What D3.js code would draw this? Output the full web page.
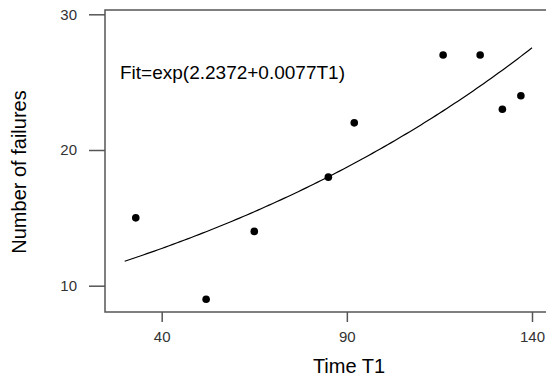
<!DOCTYPE html>
<html>
<head>
<meta charset="utf-8">
<script src="https://cdn.jsdelivr.net/npm/d3@7"></script>
<style>
  body { margin: 0; background: #fff; }
  svg { display: block; font-family: "Liberation Sans", Arial, sans-serif; }
</style>
</head>
<body>
<div id="chart"></div>
<script>
// Data
const timeT1 = [33, 52, 65, 85, 92, 116, 126, 132, 137];
const failures = [15, 9, 14, 18, 22, 27, 27, 23, 24];
const xTicks = [40, 90, 140];
const yTicks = [10, 20, 30];
const fitA = 2.2372;
const fitB = 0.0077;
const fitRange = [30, 140];

const width = 546;
const height = 380;

const svg = d3.select("#chart")
  .append("svg")
    .attr("width", width)
    .attr("height", height);

// Scales
const x = d3.scaleLinear().domain([40, 140]).range([161.7, 532]);
const y = d3.scaleLinear().domain([10, 30]).range([285.7, 14.3]);

const frame = { left: 105, top: 10, bottom: 312, right: 560 };
const axisColor = "#555";

// Frame (right side runs off the page)
svg.append("rect")
  .attr("x", frame.left)
  .attr("y", frame.top)
  .attr("width", frame.right - frame.left)
  .attr("height", frame.bottom - frame.top)
  .attr("fill", "none")
  .attr("stroke", axisColor)
  .attr("stroke-width", 1.5);

// Y axis
const yAxis = svg.append("g")
  .attr("transform", `translate(${frame.left},0)`)
  .call(d3.axisLeft(y).tickValues(yTicks).tickSize(16).tickPadding(12));
yAxis.select(".domain").remove();
yAxis.selectAll(".tick line").attr("stroke", axisColor).attr("stroke-width", 1.5);
yAxis.selectAll(".tick text")
  .attr("fill", "#333")
  .style("font-size", "15px");

// X axis
const xAxis = svg.append("g")
  .attr("transform", `translate(0,${frame.bottom})`)
  .call(d3.axisBottom(x).tickValues(xTicks).tickSize(10).tickPadding(9));
xAxis.select(".domain").remove();
xAxis.selectAll(".tick line").attr("stroke", axisColor).attr("stroke-width", 1.5);
xAxis.selectAll(".tick text")
  .attr("fill", "#333")
  .style("font-size", "15px");

// Axis titles
svg.append("text")
  .attr("x", 349)
  .attr("y", 373)
  .attr("text-anchor", "middle")
  .style("font-size", "20px")
  .text("Time T1");

svg.append("text")
  .attr("transform", "translate(26,172) rotate(-90)")
  .attr("text-anchor", "middle")
  .style("font-size", "20px")
  .text("Number of failures");

// Fitted curve
const fitPts = d3.range(fitRange[0], fitRange[1] + 0.5, 1)
  .map(t => [t, Math.exp(fitA + fitB * t)]);
svg.append("path")
  .datum(fitPts)
  .attr("fill", "none")
  .attr("stroke", "#000")
  .attr("stroke-width", 1.2)
  .attr("d", d3.line().x(d => x(d[0])).y(d => y(d[1])));

// Points
svg.selectAll(".pt")
  .data(timeT1.map((t, i) => ({ t, n: failures[i] })))
  .join("circle")
    .attr("class", "pt")
    .attr("cx", d => x(d.t))
    .attr("cy", d => y(d.n))
    .attr("r", 3.8)
    .attr("fill", "#000");

// Fit label
svg.append("text")
  .attr("x", 120)
  .attr("y", 79)
  .style("font-size", "19px")
  .text(`Fit=exp(${fitA}+${fitB}T1)`);
</script>
</body>
</html>
